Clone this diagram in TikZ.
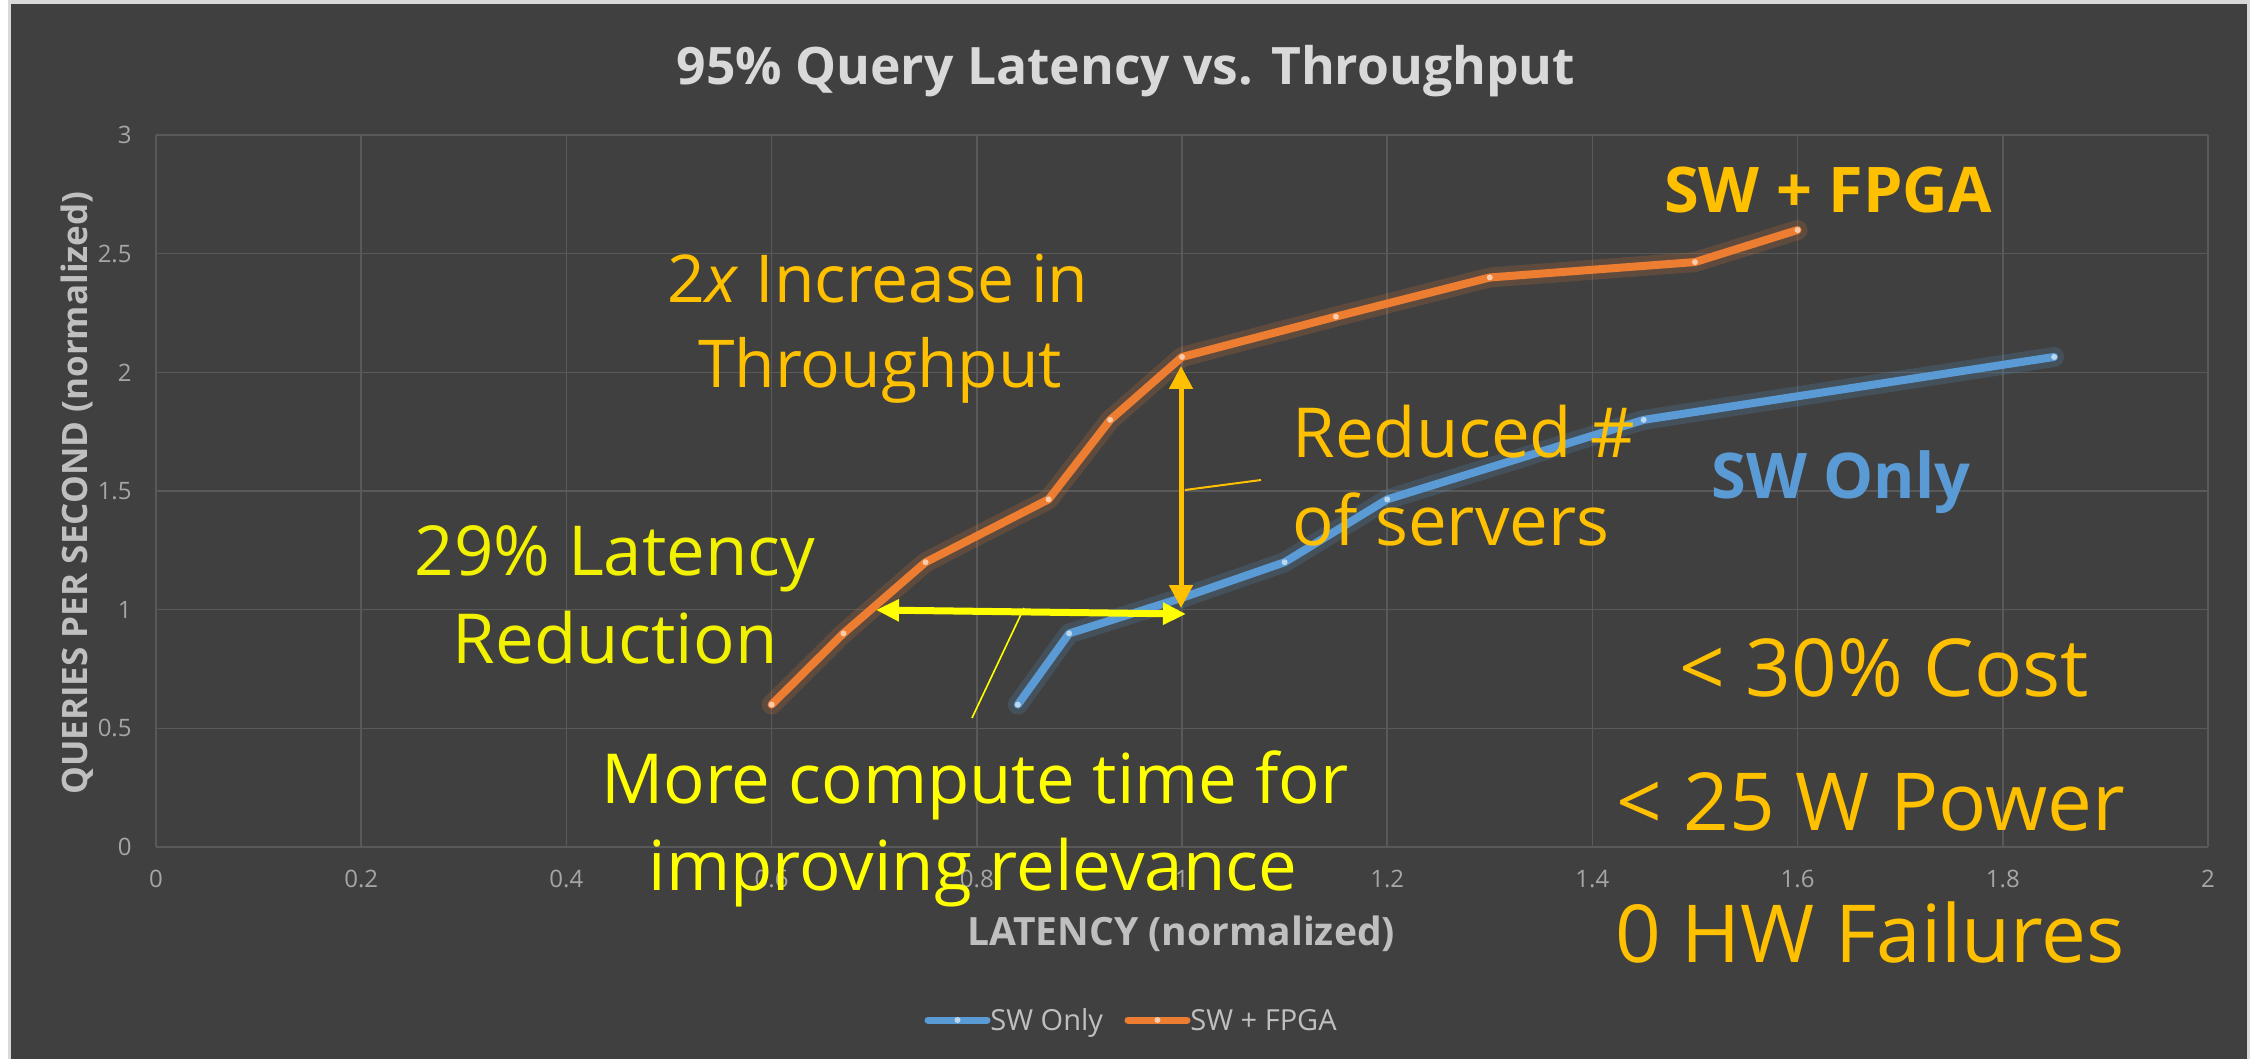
\documentclass[tikz,border=0pt]{standalone}
\usepackage{fontspec}
\setmainfont{Open Sans}
\usetikzlibrary{arrows.meta,calc}
\definecolor{bgdark}{HTML}{404040}
\definecolor{framegray}{HTML}{D9D9D9}
\definecolor{gridgray}{HTML}{595959}
\definecolor{sworange}{HTML}{ED7D31}
\definecolor{swblue}{HTML}{5B9BD5}
\definecolor{gold}{HTML}{FFC000}
\definecolor{brightyellow}{HTML}{FFFF00}
\definecolor{latyellow}{HTML}{F2F200}
\definecolor{titlegray}{HTML}{D9D9D9}
\definecolor{axisgray}{HTML}{BFBFBF}
\definecolor{tickgray}{HTML}{A6A6A6}
\definecolor{orangemark}{HTML}{F8CBAD}
\definecolor{bluemark}{HTML}{BDD7EE}
\tikzset{
  gridline/.style={draw=gridgray, line width=0.75pt},
  ticklabel/.style={text=tickgray, font=\fontsize{12}{14}\selectfont, inner sep=0pt},
  txt/.style={inner sep=0pt, anchor=base},
  goldtxt/.style={txt, text=gold},
  orangeglow/.style={draw=sworange, opacity=0.18, line width=10pt, line join=round, line cap=round},
  orangeline/.style={draw=sworange, line width=4pt, line join=round, line cap=round},
  blueglow/.style={draw=swblue, opacity=0.18, line width=10pt, line join=round, line cap=round},
  blueline/.style={draw=swblue, line width=4pt, line join=round, line cap=round},
  yarrow/.style={draw=brightyellow, line width=3.5pt, {Triangle[length=11.5pt,width=10.5pt]}-{Triangle[length=11.5pt,width=10.5pt]}},
  garrow/.style={draw=gold, line width=2.5pt, {Triangle[length=11.5pt,width=11.5pt]}-{Triangle[length=11.5pt,width=11.5pt]}},
}
\begin{document}
\begin{tikzpicture}[x=0.5pt,y=-0.5pt]
\useasboundingbox (0,0) rectangle (2250,1059);
\fill[framegray] (0,0) rectangle (2250,1059);
\fill[white] (0,0) rectangle (8,1059);
\fill[bgdark] (11,4) rectangle (2247,1059);
% grid
\foreach \i in {0,...,10} \draw[gridline] ({156+205.2*\i},135) -- ({156+205.2*\i},847);
\foreach \j in {0,...,6} \draw[gridline] (156,{847-118.65*\j}) -- (2208,{847-118.65*\j});
% tick labels
\foreach \i/\t in {0/0,1/0.2,2/0.4,3/0.6,4/0.8,5/1,6/1.2,7/1.4,8/1.6,9/1.8,10/2}
  \node[ticklabel, anchor=base] (xt\i) at ({156+205.2*\i},887) {\t};
\foreach \j/\t in {0/0,1/0.5,2/1,3/1.5,4/2,5/2.5,6/3}
  \node[ticklabel, anchor=east] (yt\j) at (132,{847-118.65*\j}) {\t};
% axis titles
\node[txt, text=titlegray, font=\bfseries\fontsize{25.8}{30}\selectfont] (title) at (1126,85) {95\% Query Latency vs. Throughput};
\node[txt, text=axisgray, font=\bfseries\fontsize{19.5}{24}\selectfont] (xlabel) at (1181,945) {LATENCY (normalized)};
\node[txt, text=axisgray, font=\bfseries\fontsize{17.5}{22}\selectfont, rotate=90] (ylabel) at (87,493) {QUERIES PER SECOND (normalized)};
% data
\begin{scope}[shift={(156,847)}, x=513pt, y=118.65pt]
  \coordinate (f1) at (0.6,0.6);
  \coordinate (f2) at (0.67,0.9);
  \coordinate (f3) at (0.75,1.2);
  \coordinate (f4) at (0.87,1.465);
  \coordinate (f5) at (0.93,1.8);
  \coordinate (f6) at (1.0,2.065);
  \coordinate (f7) at (1.15,2.235);
  \coordinate (f8) at (1.3,2.4);
  \coordinate (f9) at (1.5,2.465);
  \coordinate (f10) at (1.6,2.6);
  \coordinate (b1) at (0.84,0.6);
  \coordinate (b2) at (0.89,0.9);
  \coordinate (b3) at (1.0,1.05);
  \coordinate (b4) at (1.1,1.2);
  \coordinate (b5) at (1.2,1.465);
  \coordinate (b6) at (1.45,1.8);
  \coordinate (b7) at (1.85,2.065);
\end{scope}
\draw[blueglow] (b1) -- (b2) -- (b3) -- (b4) -- (b5) -- (b6) -- (b7);
\draw[blueline] (b1) -- (b2) -- (b3) -- (b4) -- (b5) -- (b6) -- (b7);
\foreach \p in {b1,b2,b3,b4,b5,b6,b7} \fill[bluemark] (\p) circle (1.5pt);
\draw[orangeglow] (f1) -- (f2) -- (f3) -- (f4) -- (f5) -- (f6) -- (f7) -- (f8) -- (f9) -- (f10);
\draw[orangeline] (f1) -- (f2) -- (f3) -- (f4) -- (f5) -- (f6) -- (f7) -- (f8) -- (f9) -- (f10);
\foreach \p in {f1,f2,f3,f4,f5,f6,f7,f8,f9,f10} \fill[orangemark] (\p) circle (1.5pt);
% annotation arrows
\coordinate (hl) at (876,610);
\coordinate (hr) at (1186,614);
\coordinate (vt) at (1181,366);
\coordinate (vb) at (1181,608);
\draw[garrow] (vt) -- (vb);
\draw[yarrow] (hl) -- (hr);
\coordinate (gc1) at (1185,490);
\coordinate (gc2) at (1261,480);
\draw[gold, line width=1pt] (gc1) -- (gc2);
\coordinate (yc1) at (1024,608);
\coordinate (yc2) at (972,718);
\draw[brightyellow, line width=0.8pt] (yc1) -- (yc2);
% annotation texts
\node[goldtxt, font=\fontsize{33}{40}\selectfont] (inc1) at (878,303) {2\textit{x} Increase in};
\node[goldtxt, font=\fontsize{33}{40}\selectfont] (inc2) at (880,387) {Throughput};
\node[txt, text=latyellow, font=\fontsize{34.5}{40}\selectfont] (lat1) at (615,575) {29\% Latency};
\node[txt, text=latyellow, font=\fontsize{34.5}{40}\selectfont] (lat2) at (615,663) {Reduction};
\node[goldtxt, anchor=base west, font=\fontsize{34.5}{40}\selectfont] (red1) at (1292,457) {Reduced \#};
\node[goldtxt, anchor=base west, font=\fontsize{34.5}{40}\selectfont] (red2) at (1292,545) {of servers};
\node[txt, text=brightyellow, font=\fontsize{34.5}{40}\selectfont] (more1) at (975,803) {More compute time for};
\node[txt, text=brightyellow, font=\fontsize{34.5}{40}\selectfont] (more2) at (973,890) {improving relevance};
\node[goldtxt, font=\bfseries\fontsize{31.5}{36}\selectfont] (fpga) at (1828,213) {SW + FPGA};
\node[txt, text=swblue, font=\bfseries\fontsize{31.5}{36}\selectfont] (swonly) at (1841,498) {SW Only};
\node[goldtxt, font=\fontsize{40}{46}\selectfont] (cost) at (1884,696) {< 30\% Cost};
\node[goldtxt, font=\fontsize{40}{46}\selectfont] (power) at (1871,830) {< 25 W Power};
\node[goldtxt, font=\fontsize{40}{46}\selectfont] (fail) at (1870,962) {0 HW Failures};
% legend
\coordinate (lb1) at (928,1020);
\coordinate (lb2) at (987,1020);
\coordinate (lo1) at (1128,1020);
\coordinate (lo2) at (1187,1020);
\draw[swblue, line width=3.5pt, line cap=round] (lb1) -- (lb2);
\fill[bluemark] ($(lb1)!0.5!(lb2)$) circle (1.5pt);
\draw[sworange, line width=3.5pt, line cap=round] (lo1) -- (lo2);
\fill[orangemark] ($(lo1)!0.5!(lo2)$) circle (1.5pt);
\node[txt, anchor=base west, text=axisgray, font=\fontsize{14.5}{17}\selectfont] (leg1) at (990,1030) {SW Only};
\node[txt, anchor=base west, text=axisgray, font=\fontsize{14.5}{17}\selectfont] (leg2) at (1190,1030) {SW + FPGA};
\end{tikzpicture}
\end{document}
